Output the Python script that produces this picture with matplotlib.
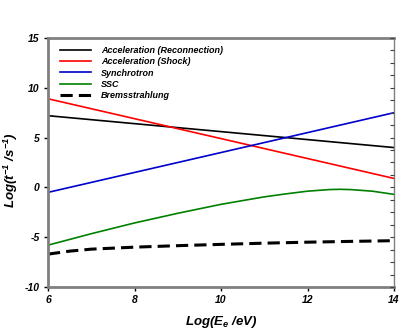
import numpy as np
import matplotlib
matplotlib.use('Agg')
from matplotlib import pyplot as plt
from matplotlib.ticker import MultipleLocator

plt.rcParams['font.family'] = ['Liberation Sans', 'DejaVu Sans']
plt.rcParams['mathtext.default'] = 'regular'

# Data
# --------------------------------------------------------------------------
x_lin = [6, 14]
recon = [7.2, 4.0]
shock = [8.9, 0.9]
synch = [-0.5, 7.5]

x_ssc = [6, 7, 8, 9, 10, 11, 11.5, 12, 12.5, 12.75, 13, 13.5, 14]
ssc = [-5.8, -4.65, -3.57, -2.6, -1.7, -0.95, -0.65, -0.38, -0.22, -0.19, -0.22, -0.38, -0.7]

x_brem = [6, 6.5, 7, 8, 9, 10, 11, 12, 13, 14]
brem = [-6.7, -6.4, -6.2, -6.0, -5.85, -5.72, -5.6, -5.5, -5.42, -5.35]

labels = ['Acceleration (Reconnection)', 'Acceleration (Shock)', 'Synchrotron',
          'SSC', 'Bremsstrahlung']
# --------------------------------------------------------------------------

fig = plt.figure(figsize=(4.15, 3.35), dpi=100)
ax = fig.add_axes([48/415, 1-287/335, (394-48)/415, (287-38)/335])

ax.plot(x_lin, recon, color='black', lw=1.2, label=labels[0])
ax.plot(x_lin, shock, color='#ff0000', lw=1.2, label=labels[1])
ax.plot(x_lin, synch, color='#0000cc', lw=1.2, label=labels[2])
ax.plot(x_ssc, ssc, color='#008000', lw=1.2, label=labels[3])
ax.plot(x_brem, brem, color='black', lw=2.2, ls=(0, (4, 2)), label=labels[4])

ax.set_xlim(6, 14)
ax.set_ylim(-10, 15)

tick_font = dict(fontsize=7.5, fontweight='bold', fontstyle='italic')
ax.set_xticks([6, 8, 10, 12, 14])
ax.set_xticklabels(['6', '8', '10', '12', '14'], **tick_font)
ax.set_yticks([-10, -5, 0, 5, 10, 15])
ax.set_yticklabels(['-10', '-5', '0', '5', '10', '15'], **tick_font)
ax.tick_params(axis='both', direction='out', length=3, width=1, color='black', pad=3)

for s in ['left', 'bottom', 'top']:
    ax.spines[s].set_color('#808080')
    ax.spines[s].set_linewidth(2)
ax.spines['right'].set_color('#808080')
ax.spines['right'].set_linewidth(1)

# minor ticks on right side
ax2 = ax.twinx()
ax2.set_ylim(-10, 15)
ax2.yaxis.set_major_locator(MultipleLocator(1.25))
ax2.tick_params(axis='y', direction='in', length=3, width=0.8, color='#404040', labelright=False)
for s in ax2.spines.values():
    s.set_visible(False)

label_font = dict(fontsize=9.5, fontweight='bold', fontstyle='italic')
ax.set_xlabel('Log(E$_e$ /eV)', labelpad=6, **label_font)
ax.set_ylabel('Log(t$^{-1}$ /s$^{-1}$)', **label_font)
ax.yaxis.set_label_coords(-0.08, 0.47)

leg = ax.legend(loc='upper left', bbox_to_anchor=(0.01, 1.0), frameon=False,
                prop=dict(size=6.5, weight='bold', style='italic'),
                handlelength=3.5, handletextpad=1.1, labelspacing=0.25)

fig.savefig('out.png', dpi=100)
